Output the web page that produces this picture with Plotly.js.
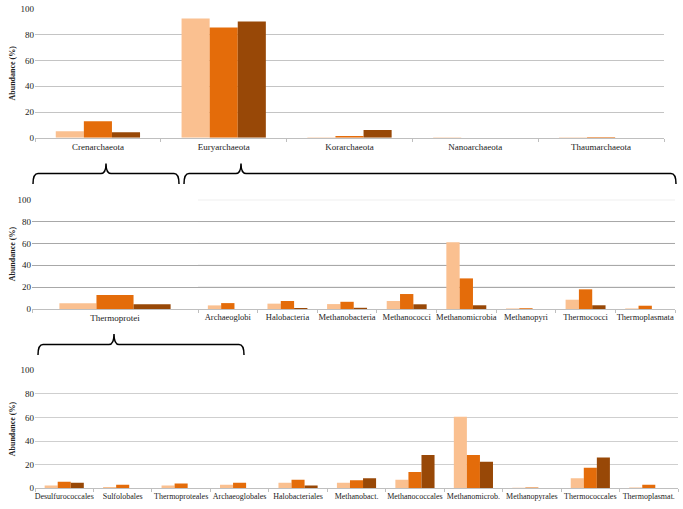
<!DOCTYPE html>
<html>
<head>
<meta charset="utf-8">
<script src="https://cdn.plot.ly/plotly-3.0.1.min.js"></script>
<style>html,body{margin:0;padding:0;background:#fff;}#chart{width:683px;height:509px;}</style>
</head>
<body>
<div id="chart"></div>
<script>
// ---- Data ----
const phyla = ["Crenarchaeota","Euryarchaeota","Korarchaeota","Nanoarchaeota","Thaumarchaeota"];
const phylaS1 = [5.0, 92.8, 0.3, 0.3, 0.4];
const phylaS2 = [12.8, 85.8, 1.3, 0, 0.5];
const phylaS3 = [4.3, 90.5, 6.0, 0, 0];

const classesCren = ["Thermoprotei"];
const classesCrenS1 = [5.2];
const classesCrenS2 = [12.8];
const classesCrenS3 = [4.4];

const classesEury = ["Archaeoglobi","Halobacteria","Methanobacteria","Methanococci","Methanomicrobia","Methanopyri","Thermococci","Thermoplasmata"];
const classesEuryS1 = [3.3, 4.9, 4.5, 7.3, 61.0, 0.5, 8.5, 0.5];
const classesEuryS2 = [5.4, 7.3, 6.6, 13.7, 28.0, 0.7, 18.0, 3.0];
const classesEuryS3 = [0, 0.9, 1.1, 4.3, 3.4, 0, 3.4, 0];

const orders = ["Desulfurococcales","Sulfolobales","Thermoproteales","Archaeoglobales","Halobacteriales","Methanobact.","Methanococcales","Methanomicrob.","Methanopyrales","Thermococcales","Thermoplasmat."];
const ordersS1 = [2.3, 1.1, 2.3, 3.1, 4.8, 4.8, 7.3, 60.7, 0.5, 8.5, 0.7];
const ordersS2 = [5.6, 3.1, 4.0, 4.8, 7.3, 6.8, 13.8, 28.2, 0.7, 17.5, 3.1];
const ordersS3 = [4.8, 0, 0, 0, 2.3, 8.5, 28.2, 22.6, 0, 26.0, 0];

const yTicks = [0, 20, 40, 60, 80, 100];
const yTitle = "Abundance (%)";
const colors = ["#FAC090", "#E46C0A", "#984807"];

// ---- Helpers ----
const W = 683, H = 509;
const px = v => v / W;
const py = v => 1 - v / H;

function bars(cats, s1, s2, s3, xa, ya) {
  return [s1, s2, s3].map((vals, i) => ({
    type: "bar", x: cats, y: vals, xaxis: xa, yaxis: ya,
    marker: {color: colors[i], line: {width: 0}},
    showlegend: false, hoverinfo: "skip"
  }));
}

const data = [].concat(
  bars(phyla, phylaS1, phylaS2, phylaS3, "x", "y"),
  bars(classesCren, classesCrenS1, classesCrenS2, classesCrenS3, "x2", "y2"),
  bars(classesEury, classesEuryS1, classesEuryS2, classesEuryS3, "x3", "y2"),
  bars(orders, ordersS1, ordersS2, ordersS3, "x4", "y4")
);

const SERIF = "Times New Roman, Times, Liberation Serif, serif";

function xAxis(domain, anchor, size) {
  return {
    domain: domain, anchor: anchor, type: "category",
    showgrid: false, zeroline: false,
    showline: true, linecolor: "#bfbfbf", linewidth: 1,
    ticks: "outside", tickson: "boundaries", ticklen: 3, tickcolor: "#bfbfbf",
    tickangle: 0, tickfont: {family: SERIF, size: size, color: "#222"},
    automargin: false, fixedrange: true
  };
}
function yAxis(domain, anchor, grid) {
  return {
    domain: domain, anchor: anchor, range: [0, 100],
    tickvals: yTicks, ticktext: yTicks.map(String),
    showgrid: true, gridcolor: grid, gridwidth: 1,
    zeroline: false, showline: false,
    ticks: "", showticklabels: true, tickfont: {family: SERIF, size: 9, color: "#222"},
    automargin: false, fixedrange: true
  };
}
function yLabel(top, bottom) {
  return {xref: "paper", yref: "paper", x: px(12), y: py((top + bottom) / 2),
          xanchor: "center", yanchor: "middle", textangle: -90, showarrow: false,
          text: "<b>" + yTitle + "</b>", font: {family: SERIF, size: 8, color: "#222"}};
}

function brace(x1, x2, xt, yTip, yMid, yEnd) {
  const r = 5;
  const p = (x, y) => px(x).toFixed(5) + "," + py(y).toFixed(5);
  const path =
    "M" + p(x1, yEnd) +
    " Q" + p(x1, yMid) + " " + p(x1 + r, yMid) +
    " L" + p(xt - r, yMid) +
    " Q" + p(xt, yMid) + " " + p(xt, yTip) +
    " Q" + p(xt, yMid) + " " + p(xt + r, yMid) +
    " L" + p(x2 - r, yMid) +
    " Q" + p(x2, yMid) + " " + p(x2, yEnd);
  return {type: "path", xref: "paper", yref: "paper", path: path,
          line: {color: "#000", width: 1.5}};
}

const layout = {
  width: W, height: H,
  margin: {l: 0, r: 0, t: 0, b: 0},
  paper_bgcolor: "#fff", plot_bgcolor: "rgba(0,0,0,0)",
  barmode: "group", bargap: 0.33, bargroupgap: 0,
  showlegend: false,
  font: {family: SERIF},
  xaxis: xAxis([px(35), px(664)], "y", 9),
  yaxis: yAxis([py(137.7), py(9.3)], "x", "#c4c4c4"),
  xaxis2: xAxis([px(32), px(198)], "y2", 9),
  yaxis2: yAxis([py(309), py(199.7)], "x2", "#a8a8a8"),
  xaxis3: xAxis([px(198), px(675)], "y2", 8.5),
  xaxis4: xAxis([px(35), px(678)], "y4", 8),
  yaxis4: yAxis([py(488.3), py(370.3)], "x4", "#cfcfcf"),
  annotations: [yLabel(9.3, 137.7), yLabel(199.7, 309), yLabel(370.3, 488.3)],
  shapes: [
    brace(33, 179, 106, 163.5, 173.5, 184),
    brace(184, 676, 241, 163.5, 173.5, 184),
    brace(38, 244, 114, 334, 344.5, 355),
    // lighter gridlines on right half of class panel
    ...[20, 40, 60, 80, 100].map(v => ({type: "line", xref: "x3 domain", yref: "y2", x0: 0, x1: 1, y0: v, y1: v, line: {color: "#d6d6d6", width: 1}, layer: "below"})),
    // darker 60 gridline segment on the left of the order panel
    {type: "line", xref: "paper", yref: "y4", x0: px(35), x1: px(207), y0: 60, y1: 60, line: {color: "#9a9a9a", width: 1}, layer: "below"}
  ]
};

Plotly.newPlot("chart", data, layout, {displayModeBar: false, staticPlot: true});
</script>
</body>
</html>
